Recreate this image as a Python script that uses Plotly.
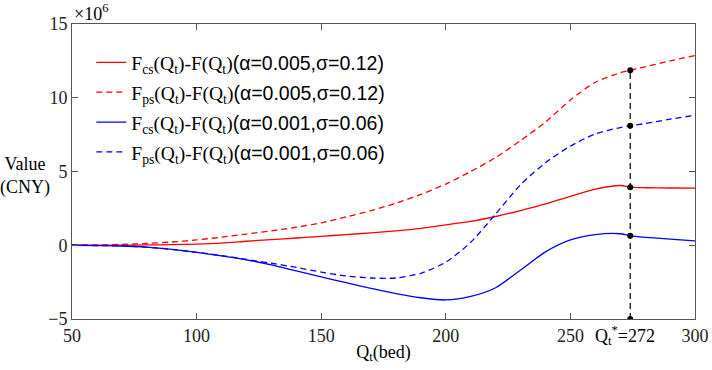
import plotly.graph_objects as go

# Data (values in units of 10^6 CNY)
q = [50, 60, 70, 80, 90, 100, 110, 120, 130, 140, 150, 160, 170, 180, 190,
     200, 210, 220, 230, 240, 250, 260, 270, 274, 280, 290, 300]
cs_a005 = [0, 0.005, 0.01, 0.02, 0.04, 0.08, 0.15, 0.27, 0.38, 0.49, 0.60, 0.72,
           0.84, 0.98, 1.15, 1.38, 1.62, 1.95, 2.35, 2.80, 3.32, 3.80, 4.05, 3.94,
           3.90, 3.88, 3.87]
ps_a005 = [0, 0.02, 0.06, 0.12, 0.22, 0.36, 0.55, 0.76, 0.98, 1.22, 1.52, 1.92,
           2.35, 2.85, 3.45, 4.15, 5.00, 5.95, 7.10, 8.35, 9.85, 11.05, 11.70, 11.86,
           12.10, 12.50, 12.86]
cs_a001 = [0, -0.02, -0.05, -0.13, -0.28, -0.48, -0.72, -0.99, -1.33, -1.74, -2.14,
           -2.54, -2.92, -3.28, -3.56, -3.71, -3.47, -2.88, -1.68, -0.45, 0.36, 0.72,
           0.78, 0.64, 0.54, 0.42, 0.30]
ps_a001 = [0, -0.02, -0.05, -0.13, -0.28, -0.48, -0.70, -0.96, -1.22, -1.50, -1.82,
           -2.08, -2.22, -2.22, -1.90, -1.15, 0.20, 2.12, 4.10, 5.60, 6.72, 7.55,
           7.98, 8.11, 8.25, 8.55, 8.81]
q_star_pos = 274
q_star_label = 272
x_ticks = [50, 100, 150, 200, 250, 300]
y_ticks = [-5, 0, 5, 10, 15]

SERIF = "Liberation Serif"
SANS = "Liberation Sans"

def lab(sub, params):
    return (f"F<sub>{sub}</sub>(Q<sub>t</sub>)-F(Q<sub>t</sub>)"
            f"<span style='font-family:{SANS}'>({params})</span>")

series = [
    (cs_a005, "red", "solid", lab("cs", "α=0.005,σ=0.12")),
    (ps_a005, "red", "6px,4px", lab("ps", "α=0.005,σ=0.12")),
    (cs_a001, "blue", "solid", lab("cs", "α=0.001,σ=0.06")),
    (ps_a001, "blue", "6px,4px", lab("ps", "α=0.001,σ=0.06")),
]

fig = go.Figure()
for i, (ys, col, dash, name) in enumerate(series):
    fig.add_trace(go.Scatter(x=q, y=ys, mode="lines", name=name,
                             legendgroup=f"g{i}",
                             line=dict(color=col, width=1.3, dash=dash,
                                       shape="spline", smoothing=0.7)))

idx = q.index(q_star_pos)
vy = [-5, cs_a001[idx], cs_a005[idx], ps_a001[idx], ps_a005[idx]]
fig.add_trace(go.Scatter(x=[q_star_pos] * len(vy), y=vy, mode="lines+markers",
                         showlegend=False,
                         line=dict(color="black", width=1.2, dash="6px,4px"),
                         marker=dict(color="black", size=6)))

axis_common = dict(showline=True, linecolor="#555555", linewidth=1,
                   mirror="ticks", ticks="inside", ticklen=6, tickcolor="#555555",
                   showgrid=False, zeroline=False, automargin=False,
                   tickfont=dict(family=SERIF, size=18, color="#222222"))

fig.update_layout(
    width=712, height=370,
    margin=dict(l=72, r=17, t=24, b=51),
    paper_bgcolor="white", plot_bgcolor="white",
    font=dict(family=SERIF, size=18, color="black"),
    xaxis=dict(range=[50, 300], tickvals=x_ticks,
               title=dict(text="Q<sub>t</sub>(bed)", standoff=0,
                          font=dict(family=SERIF, size=18)),
               **axis_common),
    yaxis=dict(range=[-5, 15], tickvals=y_ticks, **axis_common),
    legend=dict(x=0.031, y=0.935, xanchor="left", yanchor="top",
                bgcolor="rgba(0,0,0,0)", font=dict(family=SERIF, size=19.5),
                tracegroupgap=1.5, itemwidth=30),
    showlegend=True,
)

fig.add_annotation(x=0, y=1, xref="paper", yref="paper", xanchor="left",
                   yanchor="bottom", text="×10<sup>6</sup>", showarrow=False,
                   font=dict(family=SERIF, size=18), yshift=-2)
fig.add_annotation(x=-0.075, y=0.485, xref="paper", yref="paper", xanchor="center",
                   yanchor="middle", text="Value<br>(CNY)", showarrow=False,
                   font=dict(family=SERIF, size=18))
fig.add_annotation(x=q_star_label, y=0, xref="x", yref="paper", xanchor="center",
                   yanchor="top", text=f"Q<sub>t</sub><sup>*</sup>={q_star_label}",
                   showarrow=False, font=dict(family=SERIF, size=18), yshift=-2)

fig.write_html("out.html", config={"displayModeBar": False},
               post_script="document.body.style.margin='0';")
